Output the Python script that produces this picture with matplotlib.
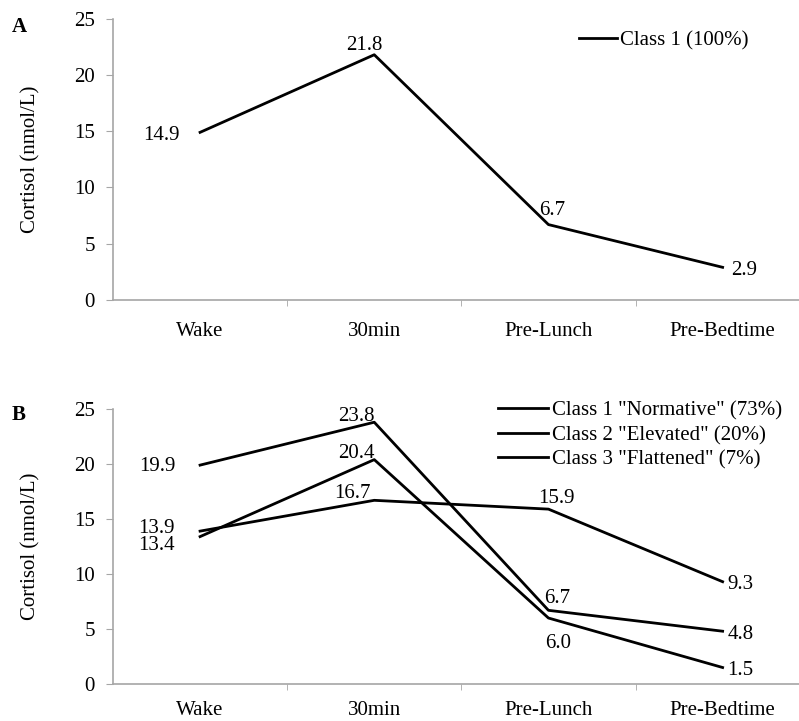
import matplotlib
matplotlib.use("Agg")
import matplotlib.pyplot as plt
import numpy as np

plt.rcParams['font.family'] = ['Liberation Serif', 'DejaVu Serif']

# Data
times = ['Wake', '30min', 'Pre-Lunch', 'Pre-Bedtime']

a_class1 = [14.9, 21.8, 6.7, 2.9]

b_normative = [13.4, 20.4, 6.0, 1.5]
b_elevated = [19.9, 23.8, 6.7, 4.8]
b_flattened = [13.9, 16.7, 15.9, 9.3]

a_labels = ['Class 1 (100%)']
b_labels = ['Class 1 "Normative" (73%)', 'Class 2 "Elevated" (20%)',
            'Class 3 "Flattened" (7%)']

GRAY = '#a6a6a6'
FS = 15


def style_axes(ax, xpad):
    for side in ['top', 'right']:
        ax.spines[side].set_visible(False)
    for side in ['left', 'bottom']:
        ax.spines[side].set_color(GRAY)
        ax.spines[side].set_linewidth(1.2)
    x = np.arange(len(times))
    ax.set_xlim(-0.5, len(times) - 0.5)
    ax.set_ylim(0, 25)
    ax.set_yticks(range(0, 26, 5))
    ax.set_xticks(x)
    ax.set_xticklabels(times, fontsize=FS)
    ax.set_xticks(x[:-1] + 0.5, minor=True)
    ax.tick_params(axis='x', which='major', length=0, pad=xpad)
    ax.tick_params(axis='x', which='minor', length=4, color=GRAY, direction='out')
    ax.tick_params(axis='y', length=5, color=GRAY, labelsize=FS, pad=8)
    ax.set_ylabel('Cortisol (nmol/L)', fontsize=FS, labelpad=24)


def label(ax, xi, v, off):
    # off = (dx, dy, ha) in pixels relative to the point
    dx, dy, ha = off
    ax.annotate(f'{v:.1f}', (xi, v), xytext=(dx, dy - 3), textcoords='offset pixels',
                ha=ha, va='center', fontsize=FS)


fig = plt.figure(figsize=(7.99, 7.21), dpi=100)
ax1 = fig.add_axes([0.1414, 0.584, 0.872, 0.390])
ax2 = fig.add_axes([0.1414, 0.0513, 0.872, 0.3814])

x = np.arange(len(times))

# Panel A
style_axes(ax1, 16)
ax1.plot(x, a_class1, color='black', lw=2, label=a_labels[0])
a_offs = [(-20, 0, 'right'), (-10, 12, 'center'), (4, 17, 'center'), (9, 0, 'left')]
for xi, v, o in zip(x, a_class1, a_offs):
    label(ax1, xi, v, o)
ax1.legend(loc='upper left', bbox_to_anchor=(0.6686, 0.957), frameon=False,
           fontsize=FS, handlelength=1.85, handletextpad=0.15,
           borderaxespad=0, borderpad=0)
fig.text(0.015, 0.962, 'A', fontsize=FS, fontweight='bold', va='center')

# Panel B
style_axes(ax2, 12)
ax2.plot(x, b_normative, color='black', lw=2, label=b_labels[0])
ax2.plot(x, b_elevated, color='black', lw=2, label=b_labels[1])
ax2.plot(x, b_flattened, color='black', lw=2, label=b_labels[2])
n_offs = [(-25, -6, 'right'), (-18, 9, 'center'), (10, -22, 'center'), (5, 0, 'left')]
e_offs = [(-25, 2, 'right'), (-18, 9, 'center'), (9, 15, 'center'), (5, 0, 'left')]
f_offs = [(-25, 6, 'right'), (-22, 10, 'center'), (8, 14, 'center'), (5, 0, 'left')]
for xi, v, o in zip(x, b_normative, n_offs):
    label(ax2, xi, v, o)
for xi, v, o in zip(x, b_elevated, e_offs):
    label(ax2, xi, v, o)
for xi, v, o in zip(x, b_flattened, f_offs):
    label(ax2, xi, v, o)
ax2.legend(loc='upper left', bbox_to_anchor=(0.5524, 1.0295), frameon=False,
           fontsize=FS, handlelength=2.4, handletextpad=0.2, labelspacing=0.24,
           borderaxespad=0, borderpad=0)
fig.text(0.015, 0.425, 'B', fontsize=FS, fontweight='bold', va='center')

fig.savefig('out.png', dpi=100, facecolor='white')
